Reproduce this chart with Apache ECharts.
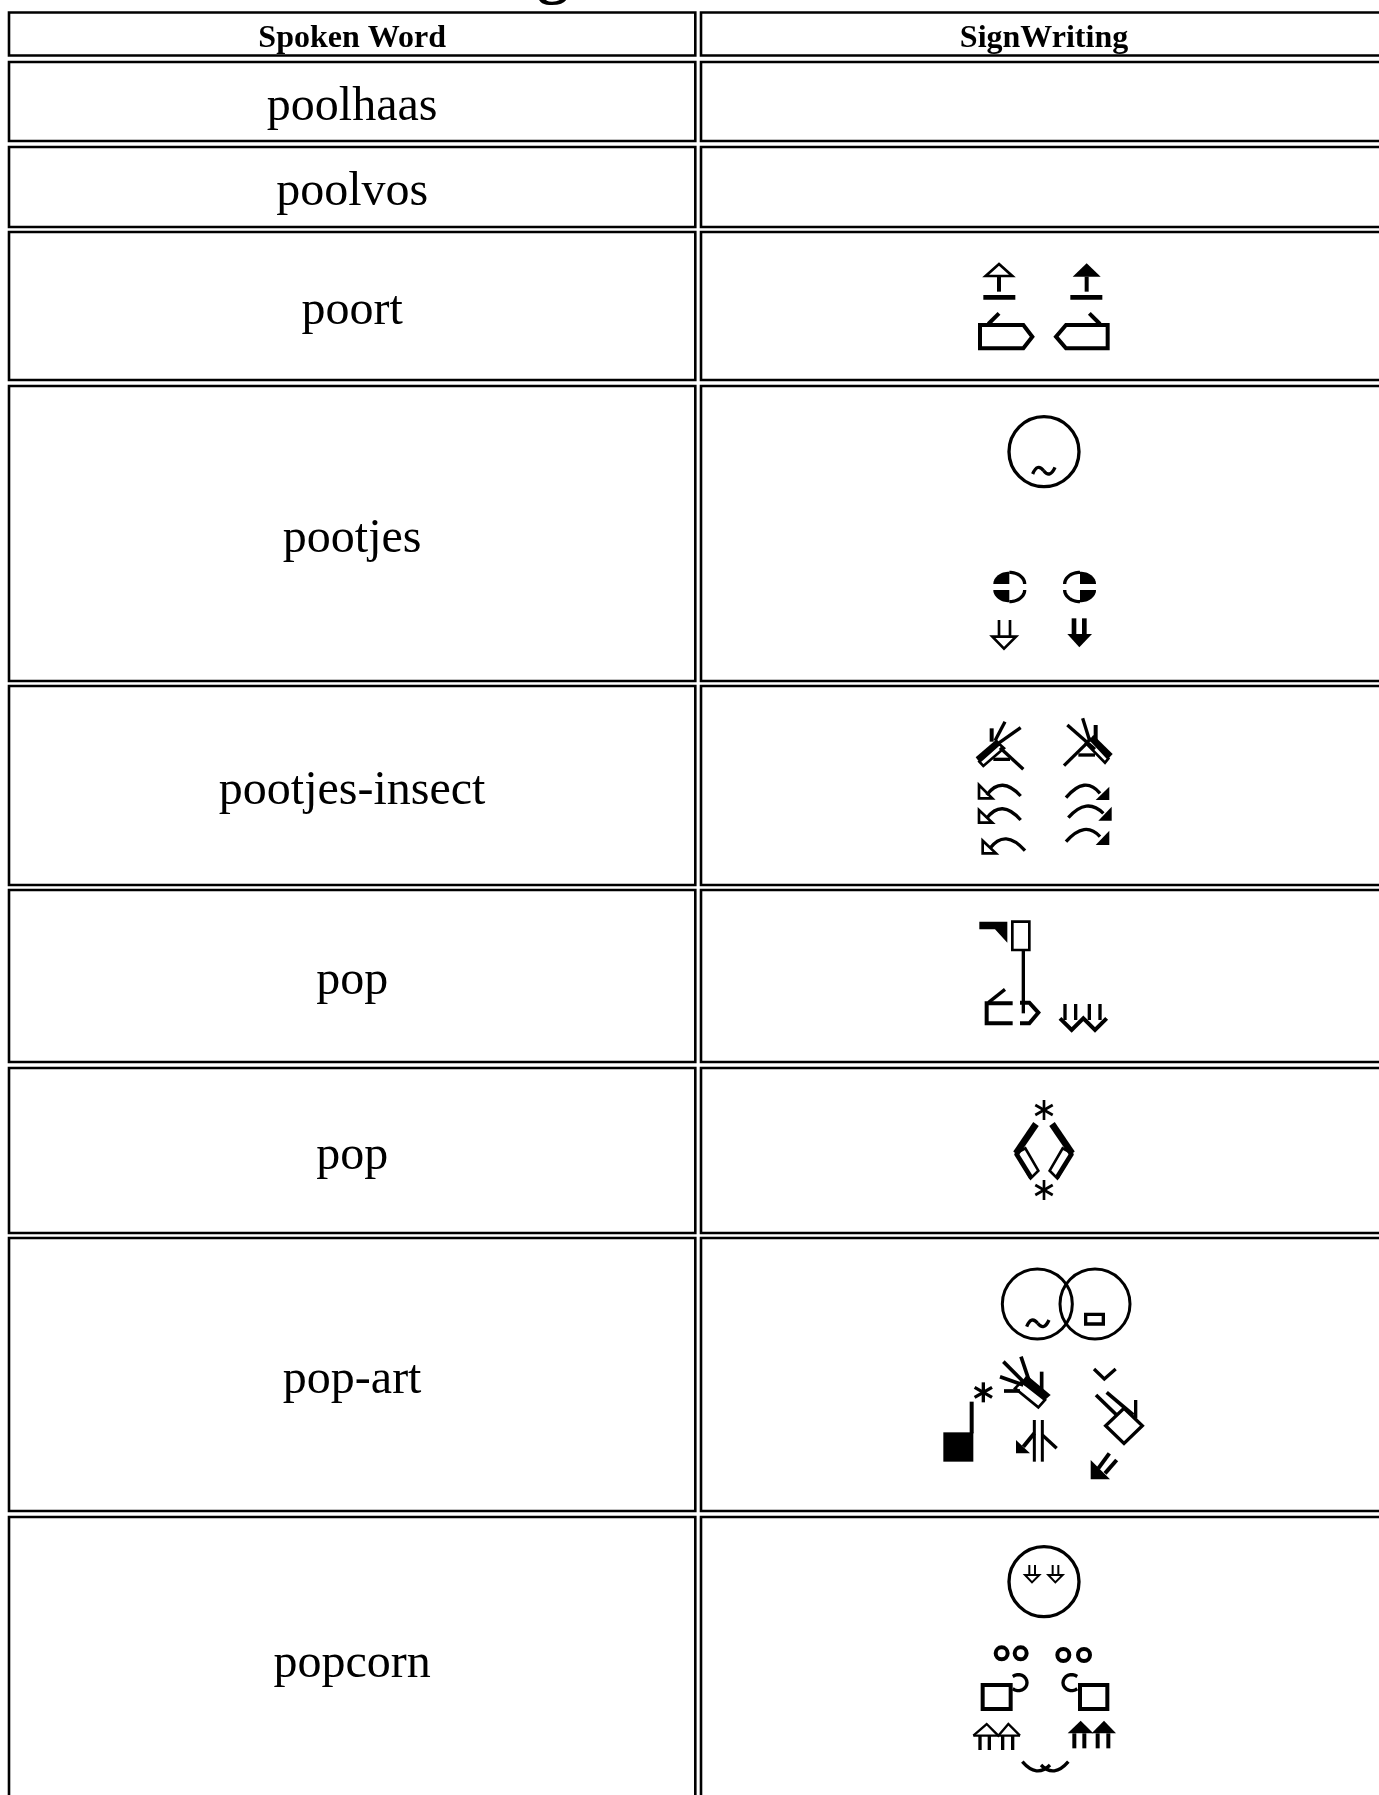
<!DOCTYPE html>
<html><head><meta charset="utf-8">
<style>html,body{margin:0;padding:0;background:#fff}#c{width:1379px;height:1795px}</style>
<script src="https://cdn.jsdelivr.net/npm/echarts@6/dist/echarts.min.js"></script>
</head><body><div id="c"></div>
<script>
// ---- table content ----
var headers = ['Spoken Word', 'SignWriting'];
var words = ['poolhaas', 'poolvos', 'poort', 'pootjes', 'pootjes-insect', 'pop', 'pop', 'pop-art', 'popcorn'];
var signs = ['', '', 'poort', 'pootjes', 'insect', 'pop1', 'pop2', 'popart', 'popcorn'];
var rowTop = [62, 147, 232, 386, 686, 890, 1068, 1238, 1517];
var rowBottom = [141, 227, 380, 681, 885, 1062, 1233, 1511, 1800];
var headTop = 12.5, headBottom = 55.5;

// ---- glyph drawing helpers (units: 1/3 pixel inside each glyph box) ----
var BLACK = '#000';
var WEIGHT = 2;
function L(w, pts) { return {k:'l', w:w, pts:pts}; }
function C(w, pts) { return {k:'c', w:w, pts:pts}; }
function F(pts) { return {k:'f', pts:pts}; }
function O(x, y, r, w) { return {k:'o', x:x, y:y, r:r, w:w}; }
function Q(w, x1, y1, cx, cy, x2, y2) { return {k:'q', w:w, p:[x1,y1,cx,cy,x2,y2]}; }
function arc(cx, cy, rx, ry, a0, a1) {
  var out = [];
  for (var i = 0; i <= 16; i++) {
    var a = (a0 + (a1 - a0) * i / 16) * Math.PI / 180;
    out.push([cx + rx * Math.cos(a), cy + ry * Math.sin(a)]);
  }
  return out;
}
function tilde(x, y, w) {
  return [Q(w, x, y + 10, x + 14, y - 24, x + 33, y), Q(w, x + 33, y, x + 52, y + 24, x + 67, y - 10)];
}
function star(x, y, r, w) {
  var d = r * 0.87, e = r * 0.5;
  return [L(w, [[x, y - r], [x, y + r]]), L(w, [[x - d, y - e], [x + d, y + e]]), L(w, [[x + d, y - e], [x - d, y + e]])];
}
var glyphBoxes = {
  poort: [930, 240], pootjes: [930, 240], insect: [930, 700], pop1: [930, 700], pop2: [930, 700],
  popart: [920, 1260], popcorn: [970, 1530]
};
var glyphs = {
  poort: [
    C(4, [[207,72],[247,108],[167,108]]), L(6, [[207,108],[207,155]]), L(7, [[160,172],[256,172]]),
    C(6, [[150,255],[280,255],[307,290],[280,325],[150,325]]), L(6, [[175,252],[207,220]]),
    F([[470,70],[512,110],[428,110]]), L(6, [[470,110],[470,155]]), L(7, [[421,172],[517,172]]),
    C(6, [[533,255],[408,255],[378,290],[408,325],[533,325]]), L(6, [[510,252],[478,220]])
  ],
  pootjes: [
    O(342,635,105,5)
  ].concat(tilde(308,692,5), [
    F([[238,1032]].concat(arc(238,1032,48,37,180,270))), L(5, arc(238,1032,46,35,270,360)),
    F([[238,1050]].concat(arc(238,1050,48,37,90,180))), L(5, arc(238,1050,46,35,0,90)),
    F([[450,1032]].concat(arc(450,1032,48,37,270,360))), L(5, arc(450,1032,46,35,180,270)),
    F([[450,1050]].concat(arc(450,1050,48,37,0,90))), L(5, arc(450,1050,46,35,90,180)),
    L(4, [[207,1140],[207,1190]]), L(4, [[240,1140],[240,1190]]), C(4, [[187,1190],[258,1190],[222,1226]]),
    L(7, [[432,1135],[432,1185]]), L(7, [[463,1135],[463,1185]]), F([[412,1182],[486,1182],[448,1222]])
  ]),
  insect: [
    F([[137,172],[200,118],[210,130],[148,186]]), C(4, [[148,185],[208,132],[222,145],[160,198]]),
    L(6, [[185,125],[185,85]]), L(5, [[195,122],[225,65]]), L(5, [[205,130],[272,83]]),
    L(5, [[210,143],[280,208]]), L(5, [[190,178],[240,178]]),
    F([[548,162],[490,105],[480,117],[535,176]]), C(4, [[535,176],[480,117],[468,130],[525,188]]),
    L(6, [[497,75],[497,125]]), L(5, [[458,55],[480,125]]), L(5, [[412,75],[495,148]]),
    L(5, [[402,197],[470,130]]), L(5, [[445,165],[495,165]]),
    Q(5,272,288,215,225,170,285), C(4, [[147,255],[147,295],[187,295]]),
    Q(5,272,360,215,295,170,355), C(4, [[147,330],[147,368],[187,368]]),
    Q(5,285,452,225,385,180,445), C(4, [[158,422],[158,460],[198,460]]),
    Q(5,408,293,465,225,510,280), F([[538,260],[538,300],[497,300]]),
    Q(5,415,353,470,290,520,340), F([[545,320],[545,362],[505,362]]),
    Q(5,408,425,465,360,510,410), F([[538,392],[538,435],[497,435]])
  ],
  pop1: [
    F([[148,665],[232,665],[232,728],[195,688],[148,688]]), C(4, [[247,665],[298,665],[298,750],[247,750]]),
    L(5, [[280,750],[280,940]]),
    L(6, [[248,910],[170,910],[170,970],[248,970]]), L(5, [[175,908],[225,868]]),
    L(6, [[270,908],[298,908],[325,938],[298,970],[270,970]]),
    L(5, [[405,912],[405,960]]), L(5, [[437,912],[437,960]]), L(5, [[478,912],[478,960]]), L(5, [[510,912],[510,960]]),
    L(6, [[390,955],[425,990],[460,955],[495,990],[530,955]])
  ],
  pop2: [
    L(10, [[318,1272],[258,1360]]), C(4, [[258,1360],[286,1345],[325,1412],[302,1435]]), L(7, [[258,1360],[304,1434]]),
    L(10, [[366,1272],[426,1360]]), C(4, [[426,1360],[398,1345],[359,1412],[382,1435]]), L(7, [[426,1360],[380,1434]])
  ].concat(star(342,1230,30,4), star(342,1470,30,4)),
  popart: [
    O(352,132,105,4.5), O(525,132,105,4.5), C(5, [[497,163],[550,163],[550,192],[497,192]]),
    F([[70,517],[160,517],[160,605],[70,605]]), L(6, [[155,425],[155,520]]),
    L(5.5, [[250,305],[320,375]]), L(5.5, [[303,290],[330,370]]), L(5.5, [[240,350],[310,375]]), L(5.5, [[252,393],[300,393]]), L(5.5, [[365,335],[365,390]]),
    F([[320,345],[392,405],[375,420],[305,365]]), C(4, [[305,365],[375,420],[355,442],[285,385]]),
    L(4.5, [[343,480],[343,605]]), L(4.5, [[367,480],[367,605]]),
    F([[288,540],[288,580],[330,580]]), L(6, [[310,560],[343,520]]), L(5, [[367,525],[410,565]]),
    L(5, [[522,327],[553,357],[587,327]]), C(5, [[612,445],[667,497],[612,550],[557,497]]),
    L(5.5, [[528,405],[590,465]]), L(5.5, [[560,397],[640,465]]), L(5, [[647,420],[647,475]]),
    F([[512,600],[512,658],[570,658]]), L(6, [[535,625],[568,580]]), L(6, [[555,640],[590,600]])
  ].concat(tilde(320,190,5), star(190,397,30,5)),
  popcorn: [
    O(222,155,105,5),
    L(3, [[178,105],[178,135]]), L(3, [[195,105],[195,135]]), C(3, [[165,135],[208,135],[186,157]]),
    L(3, [[248,105],[248,135]]), L(3, [[265,105],[265,135]]), C(3, [[235,135],[278,135],[256,157]]),
    O(95,370,18,6), O(152,370,18,6), O(280,375,18,6), O(342,375,18,6),
    C(6, [[38,465],[122,465],[122,537],[38,537]]), L(5, arc(145,458,26,24,-130,130)),
    C(6, [[330,465],[412,465],[412,537],[330,537]]), L(5, arc(305,458,26,24,50,310)),
    L(3.5, [[10,617],[50,582],[85,617],[115,582],[150,617]]), L(3.5, [[10,617],[150,617]]),
    L(5, [[30,617],[30,660]]), L(5, [[58,617],[58,660]]), L(5, [[98,617],[98,660]]), L(5, [[128,617],[128,660]]),
    F([[293,610],[332,572],[370,610]]), F([[365,610],[402,572],[438,610]]),
    L(6, [[313,610],[313,655]]), L(6, [[343,610],[343,655]]), L(6, [[383,610],[383,655]]), L(6, [[415,610],[415,655]]),
    Q(5,157,695,200,745,240,705), Q(5,295,695,252,745,213,705)
  ]
};

// ---- layout ----
var COL1_L = 9, COL1_R = 695.3, COL2_L = 701, COL2_R = 1400, LINE = 2.6;
var SERIF = '"Liberation Serif","Times New Roman",serif';

function cellRect(api, x0, y0, x1, y1) {
  var a = api.coord([x0, y0]), b = api.coord([x1, y1]);
  return {type:'rect', shape:{x:a[0], y:a[1], width:b[0]-a[0], height:b[1]-a[1]},
          style:{fill:'#fff', stroke:BLACK, lineWidth:LINE}};
}
function label(api, text, y, size, bold) {
  var p = api.coord([(COL1_L + COL1_R) / 2, y]);
  return {type:'text', style:{text:text, x:p[0], y:p[1], align:'center', verticalAlign:'middle', fill:BLACK,
          font:(bold ? 'bold ' : '') + size + 'px ' + SERIF}};
}
function renderRow(params, api) {
  var i = params.dataIndex;
  return {type:'group', children:[
    cellRect(api, COL1_L, rowTop[i], COL1_R, rowBottom[i]),
    cellRect(api, COL2_L, rowTop[i], COL2_R, rowBottom[i]),
    label(api, words[i], (rowTop[i] + rowBottom[i]) / 2 + 5.5, 48, false)
  ]};
}
function renderHead(params, api) {
  var p = api.coord([1044, (headTop + headBottom) / 2 + 4.5]);
  var g = api.coord([553, -26]);
  return {type:'group', children:[
    cellRect(api, COL1_L, headTop, COL1_R, headBottom),
    cellRect(api, COL2_L, headTop, COL2_R, headBottom),
    label(api, headers[0], (headTop + headBottom) / 2 + 4.5, 32, true),
    {type:'text', style:{text:headers[1], x:p[0], y:p[1], align:'center', verticalAlign:'middle', fill:BLACK, font:'bold 32px ' + SERIF}},
    {type:'text', style:{text:'g', x:g[0], y:g[1], align:'center', verticalAlign:'middle', fill:BLACK, font:'bold 64px ' + SERIF}}
  ]};
}
function renderGlyph(params, api) {
  var name = signs[params.dataIndex];
  if (!name) return {type:'group', children:[]};
  var box = glyphBoxes[name];
  function m(x, y) { return api.coord([box[0] + x / 3, box[1] + y / 3]); }
  var kids = glyphs[name].map(function (g) {
    var lw = (g.w || 0) / 3 * WEIGHT;
    if (g.k === 'o') {
      var c = m(g.x, g.y), e = m(g.x + g.r, g.y);
      return {type:'circle', shape:{cx:c[0], cy:c[1], r:e[0]-c[0]}, style:{fill:'none', stroke:BLACK, lineWidth:lw}};
    }
    if (g.k === 'q') {
      var s = m(g.p[0], g.p[1]), q = m(g.p[2], g.p[3]), t = m(g.p[4], g.p[5]);
      return {type:'bezierCurve', shape:{x1:s[0], y1:s[1], cpx1:q[0], cpy1:q[1], x2:t[0], y2:t[1]},
              style:{fill:'none', stroke:BLACK, lineWidth:lw}};
    }
    var pts = g.pts.map(function (p) { return m(p[0], p[1]); });
    if (g.k === 'f') return {type:'polygon', shape:{points:pts}, style:{fill:BLACK, stroke:'none'}};
    if (g.k === 'c') return {type:'polygon', shape:{points:pts}, style:{fill:'none', stroke:BLACK, lineWidth:lw}};
    return {type:'polyline', shape:{points:pts}, style:{fill:'none', stroke:BLACK, lineWidth:lw}};
  });
  return {type:'group', children:kids};
}

var chart = echarts.init(document.getElementById('c'), null, {renderer:'canvas', width:1379, height:1795});
chart.setOption({
  animation:false, backgroundColor:'#fff', tooltip:{show:false},
  grid:{left:0, right:0, top:0, bottom:0},
  xAxis:{type:'value', min:0, max:1379, show:false},
  yAxis:{type:'value', min:0, max:1795, inverse:true, show:false},
  series:[
    {type:'custom', silent:true, clip:false, coordinateSystem:'cartesian2d', renderItem:renderHead, data:[[0,0]], encode:{x:0,y:1}},
    {type:'custom', silent:true, clip:false, coordinateSystem:'cartesian2d', renderItem:renderRow,
     data:words.map(function (w, i) { return [0, rowTop[i]]; }), encode:{x:0,y:1}},
    {type:'custom', silent:true, clip:false, coordinateSystem:'cartesian2d', z:5, renderItem:renderGlyph,
     data:signs.map(function (s, i) { return [0, rowTop[i]]; }), encode:{x:0,y:1}}
  ]
});
</script></body></html>
